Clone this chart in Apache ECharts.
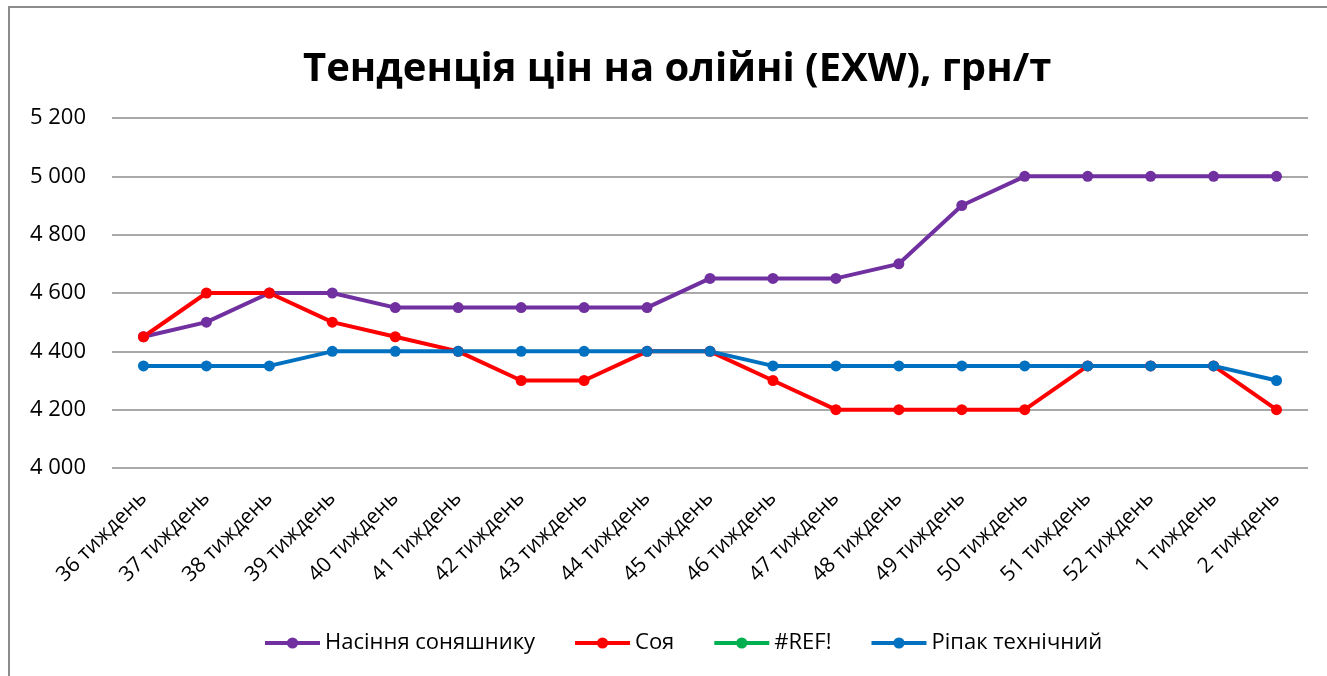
<!DOCTYPE html>
<html>
<head>
<meta charset="utf-8">
<script src="https://cdn.jsdelivr.net/npm/echarts@6/dist/echarts.min.js"></script>
<style>
    html, body { margin: 0; padding: 0; background: #fff; }
    #chart { width: 1327px; height: 676px; }
</style>
</head>
<body>
<div id="chart"></div>
<script>
    var weeks = ['36 тиждень', '37 тиждень', '38 тиждень', '39 тиждень', '40 тиждень', '41 тиждень',
        '42 тиждень', '43 тиждень', '44 тиждень', '45 тиждень', '46 тиждень', '47 тиждень',
        '48 тиждень', '49 тиждень', '50 тиждень', '51 тиждень', '52 тиждень', '1 тиждень', '2 тиждень'];
    var sunflower = [4450, 4500, 4600, 4600, 4550, 4550, 4550, 4550, 4550, 4650, 4650, 4650,
        4700, 4900, 5000, 5000, 5000, 5000, 5000];
    var soy = [4450, 4600, 4600, 4500, 4450, 4400, 4300, 4300, 4400, 4400, 4300, 4200,
        4200, 4200, 4200, 4350, 4350, 4350, 4200];
    var refErr = [];
    var rapeseed = [4350, 4350, 4350, 4400, 4400, 4400, 4400, 4400, 4400, 4400, 4350, 4350,
        4350, 4350, 4350, 4350, 4350, 4350, 4300];

    var font = 'Open Sans';

    function line(name, color, data) {
        return {
            name: name,
            type: 'line',
            data: data,
            symbol: 'circle',
            symbolSize: 11,
            lineStyle: {width: 4, color: color},
            itemStyle: {color: color},
            animation: false
        };
    }

    var myChart = echarts.init(document.getElementById('chart'));
    myChart.setOption({
        graphic: [{
            type: 'rect',
            shape: {x: 9, y: 7, width: 1340, height: 700},
            style: {fill: 'none', stroke: '#8c8c8c', lineWidth: 2},
            silent: true
        }],
        title: {
            text: 'Тенденція цін на олійні (EXW), грн/т',
            left: 298,
            top: 45,
            textStyle: {fontFamily: font, fontWeight: 'bold', fontSize: 40, color: '#000'}
        },
        legend: {
            bottom: 17,
            left: 258,
            itemWidth: 55,
            itemHeight: 14,
            itemGap: 38,
            lineStyle: {width: 4},
            textStyle: {fontFamily: font, fontSize: 22, color: '#000'},
            data: ['Насіння соняшнику', 'Соя', '#REF!', 'Ріпак технічний']
        },
        grid: {left: 112, right: 19, top: 118, bottom: 208},
        xAxis: {
            type: 'category',
            data: weeks,
            axisLine: {show: false},
            axisTick: {show: false},
            axisLabel: {rotate: 45, fontFamily: font, fontSize: 21, color: '#000', margin: 27}
        },
        yAxis: {
            type: 'value',
            min: 4000,
            max: 5200,
            interval: 200,
            axisLine: {show: false},
            axisTick: {show: false},
            splitLine: {lineStyle: {color: '#8c8c8c', width: 1.5}},
            axisLabel: {
                fontFamily: font, fontSize: 22, color: '#000', margin: 26,
                formatter: function (v) { return String(v).replace(/\B(?=(\d{3})+(?!\d))/g, ' '); }
            }
        },
        series: [
            line('Насіння соняшнику', '#7030A0', sunflower),
            line('Соя', '#FF0000', soy),
            line('#REF!', '#00B050', refErr),
            line('Ріпак технічний', '#0070C0', rapeseed)
        ]
    });
</script>
</body>
</html>
